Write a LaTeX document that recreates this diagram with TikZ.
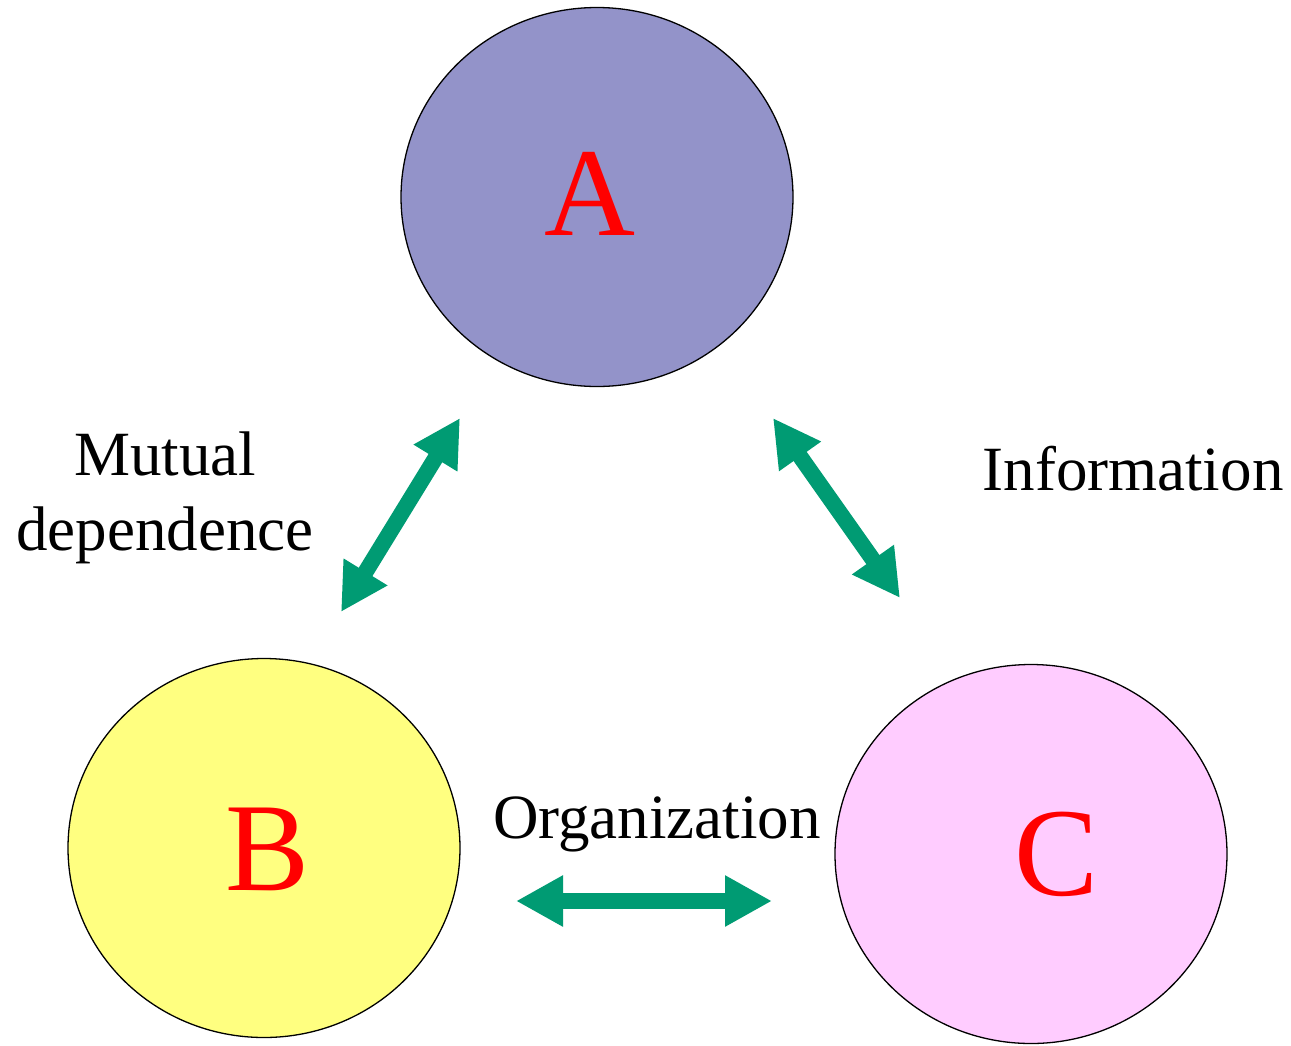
\documentclass[tikz,border=0pt]{standalone}
\usepackage{fontspec}
\setmainfont{Liberation Serif}
\usetikzlibrary{shapes.geometric,arrows.meta}
\definecolor{fillA}{RGB}{147,147,201}
\definecolor{fillB}{RGB}{255,255,128}
\definecolor{fillC}{RGB}{255,204,255}
\definecolor{arrowgreen}{RGB}{0,155,115}
\begin{document}
\begin{tikzpicture}[x=1pt,y=-1pt,
  blob/.style={ellipse,draw=black,line width=1.3pt,inner sep=0pt,minimum width=392pt,minimum height=379pt},
  letter/.style={text=red,font=\fontsize{126}{126}\selectfont,anchor=base,inner sep=0pt},
  caption/.style={font=\fontsize{63}{75}\selectfont,anchor=base,inner sep=0pt},
  bigarrow/.style={draw=arrowgreen,line width=16pt,{Triangle[width=48pt,length=47pt]}-{Triangle[width=48pt,length=47pt]}}]
\useasboundingbox (0,0) rectangle (1291,1045);
\node[blob,fill=fillA] (A) at (597,197) {};
\node[blob,fill=fillB] (B) at (264,848) {};
\node[blob,fill=fillC] (C) at (1031,854) {};
\node[letter] (la) at (590,235) {A};
\node[letter] (lb) at (268,890) {B};
\node[letter] (lc) at (1057,895) {C};
\node[caption] (mut) at (165,475) {Mutual};
\node[caption] (dep) at (165,550) {dependence};
\node[caption] (inf) at (1133,490) {Information};
\node[caption] (org) at (657,838) {Organization};
\coordinate (a1) at (341,612);
\coordinate (a2) at (460,418);
\coordinate (b1) at (773,418);
\coordinate (b2) at (900,598);
\coordinate (c1) at (516,901);
\coordinate (c2) at (772,901);
\draw[bigarrow] (a1) -- (a2);
\draw[bigarrow] (b1) -- (b2);
\draw[bigarrow] (c1) -- (c2);
\end{tikzpicture}
\end{document}
